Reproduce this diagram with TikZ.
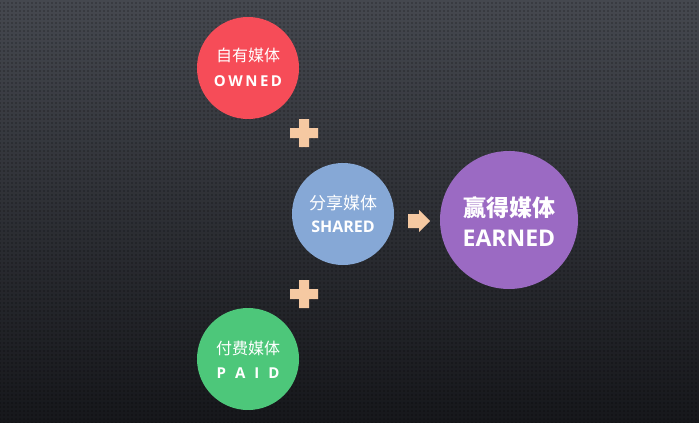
\documentclass[tikz,border=0pt]{standalone}
\usepackage{fontspec}
\setmainfont{Open Sans}
\newfontfamily\cjk{Noto Sans CJK SC}
\usetikzlibrary{patterns}
\pgfdeclarepatternformonly{mydots}{\pgfqpoint{-1pt}{-1pt}}{\pgfqpoint{1pt}{1pt}}{\pgfqpoint{4pt}{4pt}}{\pgfpathcircle{\pgfqpoint{0pt}{0pt}}{0.9pt}\pgfusepath{fill}}
\definecolor{cred}{HTML}{F64C58}
\definecolor{cblue}{HTML}{86A8D6}
\definecolor{cpurple}{HTML}{9B6AC3}
\definecolor{cgreen}{HTML}{4DC77A}
\definecolor{peach}{HTML}{F6C9A2}
\definecolor{bgtop}{HTML}{45484F}
\definecolor{bgbot}{HTML}{16171B}
\tikzset{
  circ/.style={circle, inner sep=0pt},
  cn/.style={text=white, font=\cjk\fontsize{16}{16}\selectfont, inner sep=0pt},
  en/.style={text=white, font=\bfseries\fontsize{15}{15}\selectfont, inner sep=0pt},
}
\begin{document}
\begin{tikzpicture}[x=1pt,y=-1pt]
\useasboundingbox (0,0) rectangle (699,423);
\shade[top color=bgtop, bottom color=bgbot] (0,0) rectangle (699,423);
\fill[pattern=mydots, pattern color=black, opacity=.35] (0,0) rectangle (699,423);

\node[circ, fill=cred, minimum size=102pt] (owned) at (248,68) {};
\node[circ, fill=cblue, minimum size=102pt] (shared) at (343,214) {};
\node[circ, fill=cpurple, minimum size=138pt] (earned) at (509,220) {};
\node[circ, fill=cgreen, minimum size=102pt] (paid) at (248,359) {};

\node[cn] (ownedcn) at (248,55) {自有媒体};
\node[en] (owneden) at (248,81) {O\,W\,N\,E\,D};
\node[cn, font=\cjk\fontsize{17}{17}\selectfont] (sharedcn) at (343,203) {分享媒体};
\node[en, font=\bfseries\fontsize{16}{16}\selectfont] (shareden) at (343,227) {SHARED};
\node[cn, font=\cjk\bfseries\fontsize{23}{23}\selectfont] (earnedcn) at (509,208) {赢得媒体};
\node[en, font=\bfseries\fontsize{23}{23}\selectfont] (earneden) at (509,238) {EARNED};
\node[cn] (paidcn) at (248,348) {付费媒体};
\node[en] (paiden) at (248,373) {P\hspace{9pt}A\hspace{9pt}I\hspace{9pt}D};

\coordinate (plus1) at (304,133);
\coordinate (plus2) at (304,294);
\foreach \p in {plus1,plus2}{
  \fill[peach, shift={(\p)}] (-5,-14) -- (5,-14) -- (5,-5) -- (14,-5) -- (14,5) -- (5,5) -- (5,14) -- (-5,14) -- (-5,5) -- (-14,5) -- (-14,-5) -- (-5,-5) -- cycle;
}
\coordinate (arr) at (408,221);
\fill[peach, shift={(arr)}] (0,-7) -- (11,-7) -- (11,-11) -- (22,0) -- (11,11) -- (11,7) -- (0,7) -- cycle;
\end{tikzpicture}
\end{document}
